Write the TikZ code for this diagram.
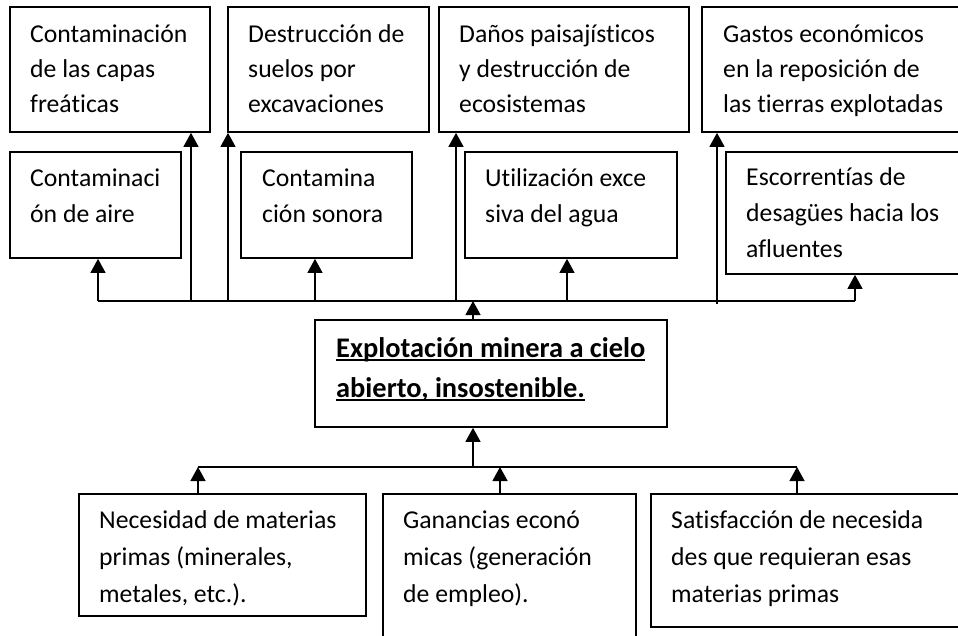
\documentclass[tikz,border=0pt]{standalone}
\usepackage{fontspec}
\setmainfont{Carlito}[Ligatures=NoCommon]
\usetikzlibrary{arrows.meta}
\newcommand{\subraya}[1]{\setbox0\hbox{#1}\rlap{\rule[-4pt]{\wd0}{2.4pt}}\box0}
\tikzset{
  box/.style={draw, line width=1.7pt, inner sep=0pt},
  txt/.style={anchor=base west, align=left, inner sep=0pt, font=\fontsize{25.7}{36}\selectfont},
  arr/.style={line width=1.3pt, -{Triangle[width=15pt,length=14pt]}},
}
\begin{document}
\begin{tikzpicture}[x=1pt,y=-1pt]
  \clip (0,0) rectangle (958,636);
  \fill[white] (0,0) rectangle (958,636);
  % top row (text placed by its last baseline)
  \node[box, minimum width=200, minimum height=125] (capas) at (110,69.5) {};
  \node[box, minimum width=201, minimum height=125] (suelos) at (328.5,69.5) {};
  \node[box, minimum width=250, minimum height=125] (paisaje) at (564,69.5) {};
  \node[box, minimum width=273, minimum height=125] (gastos) at (838.5,69.5) {};
  \node[txt, font=\fontsize{25.7}{35}\selectfont] (capas-t) at (30,113) {Contaminación\\de las capas\\freáticas};
  \node[txt, font=\fontsize{25.7}{35}\selectfont] (suelos-t) at (248,113) {Destrucción de\\suelos por\\excavaciones};
  \node[txt, font=\fontsize{25.7}{35}\selectfont] (paisaje-t) at (459,113) {Daños paisajísticos\\y destrucción de\\ecosistemas};
  \node[txt, font=\fontsize{25.7}{35}\selectfont] (gastos-t) at (723,113) {Gastos económicos\\en la reposición de\\las tierras explotadas};
  % second row
  \node[box, minimum width=171, minimum height=106] (aire) at (95.5,205) {};
  \node[box, minimum width=171, minimum height=106] (sonora) at (326.5,205) {};
  \node[box, minimum width=212, minimum height=106] (agua) at (571,205) {};
  \node[box, minimum width=249, minimum height=122] (afluentes) at (850.5,213) {};
  \node[txt] (aire-t) at (30,222.5) {Contaminaci\\ón de aire};
  \node[txt] (sonora-t) at (262,222.5) {Contamina\\ción sonora};
  \node[txt] (agua-t) at (485,222.5) {Utilización exce\\siva del agua};
  \node[txt] (afluentes-t) at (746,258) {Escorrentías de\\desagües hacia los\\afluentes};
  % problem
  \node[box, minimum width=352, minimum height=107] (mina) at (491,373.5) {};
  \node[txt, font=\fontsize{28.4}{40}\selectfont\bfseries] (mina-t) at (336,397)
    {\subraya{Explotación minera a cielo}\\\subraya{abierto, insostenible.}};
  % causes
  \node[box, minimum width=287, minimum height=122] (materias) at (222.5,555) {};
  \node[box, minimum width=253, minimum height=170] (ganancias) at (509.5,579) {};
  \node[box, minimum width=324, minimum height=133] (satisf) at (813,560.5) {};
  \node[txt, font=\fontsize{25.7}{37}\selectfont] (materias-t) at (99,602) {Necesidad de materias\\primas (minerales,\\metales, etc.).};
  \node[txt, font=\fontsize{25.7}{37}\selectfont] (ganancias-t) at (403,602) {Ganancias econó\\micas (generación\\de empleo).};
  \node[txt, font=\fontsize{25.7}{37}\selectfont] (satisf-t) at (671,602) {Satisfacción de necesida\\des que requieran esas\\materias primas};
  % upper connectors
  \coordinate (top) at (473,301);
  \coordinate (up1) at (98,301);
  \coordinate (up2) at (191,301);
  \coordinate (up3) at (228,301);
  \coordinate (up4) at (315,301);
  \coordinate (up5) at (456,301);
  \coordinate (up6) at (567,301);
  \coordinate (up7) at (717,304);
  \coordinate (up8) at (855,301);
  \draw[line width=1.3pt] (up1) -- (up8);
  \draw[arr] (mina.north -| top) -- (top);
  \draw[arr] (up1) -- (aire.south -| up1);
  \draw[arr] (up2) -- (capas.south -| up2);
  \draw[arr] (up3) -- (suelos.south -| up3);
  \draw[arr] (up4) -- (sonora.south -| up4);
  \draw[arr] (up5) -- (paisaje.south -| up5);
  \draw[arr] (up6) -- (agua.south -| up6);
  \draw[arr] (up7) -- (gastos.south -| up7);
  \draw[arr] (up8) -- (afluentes.south -| up8);
  % lower connectors
  \coordinate (bot) at (473,467);
  \coordinate (dn1) at (198,467);
  \coordinate (dn2) at (500,467);
  \coordinate (dn3) at (797,467);
  \draw[line width=1.3pt] (dn1) -- (dn3);
  \draw[arr] (bot) -- (mina.south -| bot);
  \draw[arr] (materias.north -| dn1) -- (dn1);
  \draw[arr] (ganancias.north -| dn2) -- (dn2);
  \draw[arr] (satisf.north -| dn3) -- (dn3);
\end{tikzpicture}
\end{document}
